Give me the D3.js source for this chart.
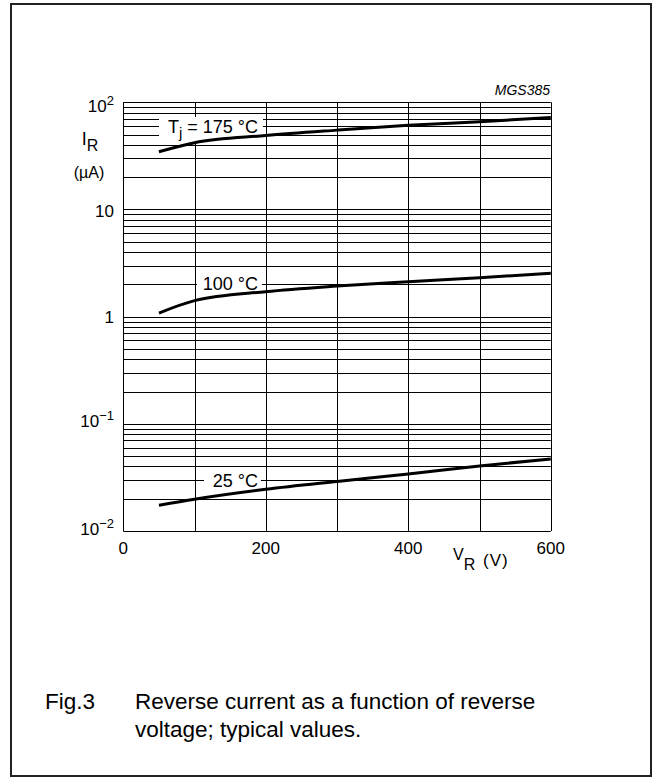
<!DOCTYPE html>
<html><head><meta charset="utf-8">
<script src="https://cdn.jsdelivr.net/npm/d3@7"></script>
<style>
html,body{margin:0;padding:0;background:#fff;}
svg{display:block;font-family:"Liberation Sans",Arial,sans-serif;}
</style></head>
<body>
<svg id="c" width="653" height="778"></svg>
<script>
// ---- data ----
const voltages = [50, 100, 200, 300, 400, 500, 600];
const current175 = [34.6, 42, 49, 55, 61, 66, 72];
const current100 = [1.08, 1.41, 1.71, 1.93, 2.12, 2.31, 2.54];
const current25 = [0.0174, 0.0198, 0.0245, 0.029, 0.034, 0.0405, 0.047];
const xTickValues = [0, 200, 400, 600];
const xGridValues = [0, 100, 200, 300, 400, 500, 600];
const yDecadeValues = [0.01, 0.1, 1, 10, 100];
const yTickBase = ["10", "10", "1", "10", "10"];
const yTickExp = ["−2", "−1", "", "", "2"];
const curveLabels = ["175 °C", "100 °C", "25 °C"];

const svg = d3.select("#c");
const x = d3.scaleLinear().domain([0, 600]).range([123.3, 550.8]);
const y = d3.scaleLog().domain([0.01, 100]).range([531, 102.3]);

// frame
svg.append("rect").attr("x", 11).attr("y", 4).attr("width", 640).attr("height", 772)
  .attr("fill", "none").attr("stroke", "#222").attr("stroke-width", 2);

// grid
const hGrid = [];
for (let n = -2; n <= 1; n++) for (let k = 1; k <= 9; k++) hGrid.push(k * Math.pow(10, n));
hGrid.push(100);
const g = svg.append("g");
g.selectAll("line.h").data(hGrid).join("line")
  .attr("x1", x(0)).attr("x2", x(600))
  .attr("y1", d => Math.round(y(d)) + 0.5).attr("y2", d => Math.round(y(d)) + 0.5)
  .attr("stroke", "#000").attr("stroke-width", 1);
g.selectAll("line.v").data(xGridValues).join("line")
  .attr("y1", y(100)).attr("y2", y(0.01))
  .attr("x1", d => Math.round(x(d)) + 0.5).attr("x2", d => Math.round(x(d)) + 0.5)
  .attr("stroke", "#000").attr("stroke-width", 1);

// label boxes (white, break the grid)
const boxes = [[159, 117, 104, 24], [197, 275, 65, 18], [204, 471, 57, 18]];
svg.selectAll("rect.box").data(boxes).join("rect")
  .attr("x", d => d[0]).attr("y", d => d[1]).attr("width", d => d[2]).attr("height", d => d[3])
  .attr("fill", "#fff");

// curves
const line = d3.line().x(d => x(d[0])).y(d => y(d[1])).curve(d3.curveMonotoneX);
[current175, current100, current25].forEach(arr => {
  svg.append("path").datum(voltages.map((v, i) => [v, arr[i]]))
    .attr("d", line).attr("fill", "none").attr("stroke", "#000").attr("stroke-width", 3);
});

// curve labels
const t175 = svg.append("text").attr("x", 258).attr("y", 132.5).attr("text-anchor", "end")
  .attr("font-size", 18);
t175.append("tspan").text("T");
t175.append("tspan").attr("font-size", 15).attr("dy", 5).text("j");
t175.append("tspan").attr("dy", -5).text(" = " + curveLabels[0]);
svg.append("text").attr("x", 258).attr("y", 289.5).attr("text-anchor", "end").attr("font-size", 18).text(curveLabels[1]);
svg.append("text").attr("x", 258).attr("y", 486.5).attr("text-anchor", "end").attr("font-size", 18).text(curveLabels[2]);

// x tick labels
svg.selectAll("text.xt").data(xTickValues).join("text")
  .attr("x", d => x(d)).attr("y", 553.5).attr("text-anchor", "middle").attr("font-size", 17).text(d => d);

// y tick labels
const yBaselines = [535, 427, 323, 216.5, 111.5];
yDecadeValues.forEach((v, i) => {
  const t = svg.append("text").attr("x", 114).attr("y", yBaselines[i]).attr("text-anchor", "end").attr("font-size", 17);
  t.append("tspan").text(yTickBase[i]);
  if (yTickExp[i]) t.append("tspan").attr("font-size", 13).attr("dy", -7).text(yTickExp[i]);
});

// axis titles
const ir = svg.append("text").attr("x", 90).attr("y", 145).attr("text-anchor", "middle").attr("font-size", 18);
ir.append("tspan").text("I");
ir.append("tspan").attr("font-size", 16).attr("dy", 6).text("R");
svg.append("text").attr("x", 89).attr("y", 178).attr("text-anchor", "middle").attr("font-size", 16).text("(µA)");

const vr = svg.append("text").attr("x", 453).attr("y", 560).attr("font-size", 16);
vr.append("tspan").text("V");
vr.append("tspan").attr("font-size", 16).attr("dy", 10).text("R");
svg.append("text").attr("x", 483).attr("y", 566).attr("font-size", 17).attr("letter-spacing", 1).text("(V)");

svg.append("text").attr("x", 550).attr("y", 95).attr("text-anchor", "end")
  .attr("font-size", 14).attr("font-style", "italic").text("MGS385");

// caption
svg.append("text").attr("x", 45).attr("y", 709).attr("font-size", 22.5).text("Fig.3");
svg.append("text").attr("x", 135).attr("y", 709).attr("font-size", 22.5).text("Reverse current as a function of reverse");
svg.append("text").attr("x", 135).attr("y", 737).attr("font-size", 22.5).text("voltage; typical values.");
</script>
</body></html>
